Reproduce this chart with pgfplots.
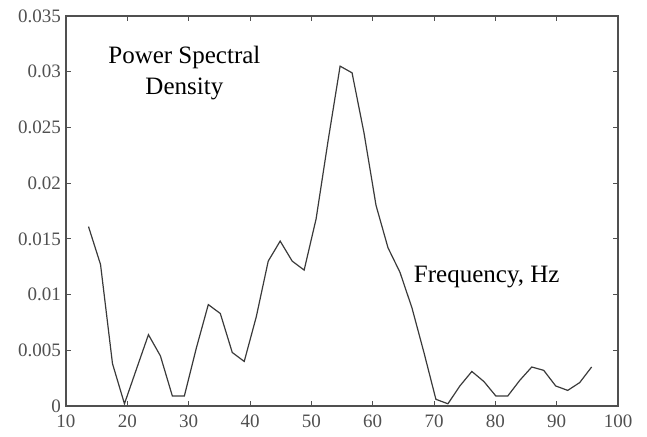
\documentclass[border=0pt]{standalone}
\usepackage{fontspec}
\setmainfont{Liberation Serif}
\usepackage{pgfplots}
\pgfplotsset{compat=1.18}
\definecolor{linegray}{HTML}{3A3A3A}
\definecolor{axgray}{HTML}{505050}
\begin{document}
\begin{tikzpicture}
\begin{axis}[
  scale only axis,
  width=552pt, height=390pt,
  xmin=10, xmax=100, ymin=0, ymax=0.035,
  xtick={10,20,...,100},
  ytick={0,0.005,0.01,0.015,0.02,0.025,0.03,0.035},
  scaled y ticks=false,
  /pgf/number format/assume math mode=true,
  yticklabel style={/pgf/number format/fixed,/pgf/number format/precision=3, xshift=-4pt},
  xticklabel style={yshift=-8pt},
  tick label style={font=\fontsize{19}{22}\selectfont, text=axgray, inner sep=1pt},
  tick align=inside,
  major tick length=5pt,
  axis line style={axgray, line width=1.1pt},
  every tick/.style={axgray, line width=1pt},
  xtick pos=both, ytick pos=both,
  xticklabel pos=lower, yticklabel pos=left,
  clip=false,
]
\addplot[linegray, line width=1.2pt] coordinates {
(13.67,0.0161) (15.63,0.0127) (17.58,0.0038) (19.53,0.0002) (21.48,0.0033)
(23.44,0.0064) (25.39,0.0045) (27.34,0.0009) (29.30,0.0009) (31.25,0.0052)
(33.20,0.0091) (35.16,0.0083) (37.11,0.0048) (39.06,0.0040) (41.02,0.0080)
(42.97,0.0130) (44.92,0.0148) (46.88,0.0130) (48.83,0.0122) (50.78,0.0168)
(52.73,0.0238) (54.69,0.0305) (56.64,0.0299) (58.59,0.0245) (60.55,0.0180)
(62.50,0.0142) (64.45,0.0120) (66.41,0.0088) (68.36,0.0048) (70.31,0.0006)
(72.27,0.0002) (74.22,0.0018) (76.17,0.0031) (78.13,0.0022) (80.08,0.0009)
(82.03,0.0009) (83.98,0.0023) (85.94,0.0035) (87.89,0.0032) (89.84,0.0018)
(91.80,0.0014) (93.75,0.0021) (95.70,0.0035)
};
\node[align=center, font=\fontsize{25}{31}\selectfont] at (axis cs:29.3,0.0299) {Power Spectral\\Density};
\node[font=\fontsize{25}{31}\selectfont, fill=white, inner sep=1pt] at (axis cs:78.6,0.01158) {Frequency, Hz};
\end{axis}
\pgfresetboundingbox
\useasboundingbox (-66pt,-30pt) rectangle (581pt,406pt);
\end{tikzpicture}
\end{document}
